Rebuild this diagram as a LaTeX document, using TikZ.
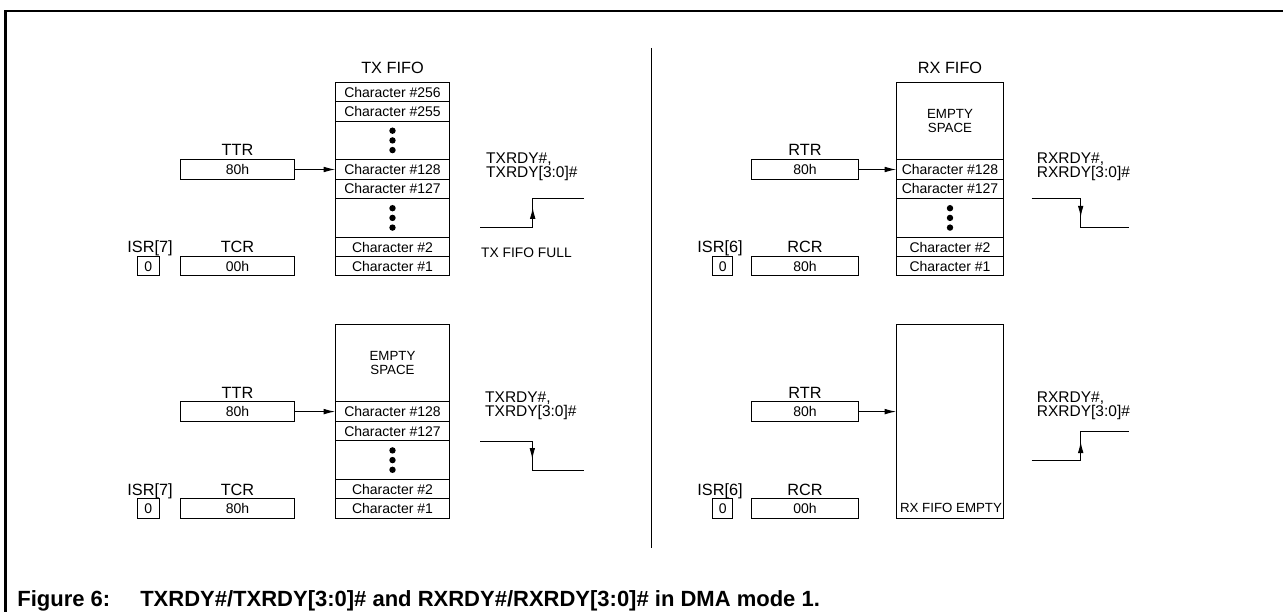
\documentclass[tikz,border=0pt]{standalone}
\usepackage{fontspec}
\setmainfont{Liberation Sans}
\usetikzlibrary{arrows.meta,calc}
\newcommand{\fsz}[1]{\fontsize{#1}{#1}\selectfont}
\begin{document}
\begin{tikzpicture}[x=1pt,y=-1pt,
  cell/.style={draw, line width=1pt, inner sep=0pt, minimum height=19.4pt, font=\fsz{14}},
  txw/.style={cell, minimum width=113.6pt},
  rxw/.style={cell, minimum width=106.6pt},
  reg/.style={cell, minimum width=113.6pt},
  rreg/.style={cell, minimum width=106.6pt},
  isr/.style={cell, minimum width=21.5pt},
  lab/.style={inner sep=0pt, anchor=base, font=\fsz{16.3}},
  sigtxt/.style={inner sep=0pt, anchor=base west, align=left, font=\fontsize{15.5}{14.4}\selectfont},
  note/.style={inner sep=0pt, anchor=base west, font=\fsz{13.8}},
  wave/.style={line width=1pt},
  arr/.style={line width=1pt, -{Latex[length=11.5pt,width=5.6pt]}},
  dotfill/.style={fill=black}
]
\useasboundingbox (0,0) rectangle (1283,612);
% frame
\draw[line width=2.3pt] (5.5,612) -- (5.5,11.2) -- (1283,11.2);
% divider
\draw[line width=1pt] (651.7,48) -- (651.7,548);

%================ TX FIFO full (top left)
\node[lab] (txtitle) at (392.5,74) {TX FIFO};
\node[txw] (a256) at (392.5,92.0) {Character \#256};
\node[txw] (a255) at (392.5,111.4) {Character \#255};
\node[txw, minimum height=38.74pt] (adots1) at (392.5,140.4) {};
\node[txw] (a128) at (392.5,169.5) {Character \#128};
\node[txw] (a127) at (392.5,188.8) {Character \#127};
\node[txw, minimum height=38.74pt] (adots2) at (392.5,217.9) {};
\node[txw] (a2) at (392.5,247.0) {Character \#2};
\node[txw] (a1) at (392.5,266.3) {Character \#1};
\foreach \d in {-9.7,0,9.7} {
  \fill[dotfill] ($(adots1.center)+(0,\d)$) circle (3.2pt);
  \fill[dotfill] ($(adots2.center)+(0,\d)$) circle (3.2pt);
}
\node[lab] (attrl) at (237.5,156) {TTR};
\node[reg] (attr) at (237.5,169.5) {80h};
\node[lab] (atcrl) at (237.5,252.7) {TCR};
\node[reg] (atcr) at (237.5,266.3) {00h};
\node[lab] (aisrl) at (150,252.7) {ISR[7]};
\node[isr] (aisr) at (148.3,266.3) {0};
\draw[arr] (attr.east) -- (a128.west);
\node[sigtxt] (asig) at (486,177.7) {TXRDY\#,\\TXRDY[3:0]\#};
\coordinate (aw1) at (480,227.7);
\coordinate (aw2) at (532.7,227.7);
\coordinate (aw3) at (532.7,198.3);
\coordinate (aw4) at (584,198.3);
\coordinate (awt) at (532.7,207.3);
\draw[wave] (aw1) -- (aw2) -- (aw3) -- (aw4);
\draw[arr] (aw2) -- (awt);
\node[note] (afull) at (481,257.3) {TX FIFO FULL};

%================ TX FIFO (bottom left)
\node[txw, minimum height=77.6pt, align=center, font=\fontsize{13.3}{13.6}\selectfont] (bempty) at (392.5,363.1) {EMPTY\\SPACE};
\node[txw] (b128) at (392.5,411.6) {Character \#128};
\node[txw] (b127) at (392.5,431.0) {Character \#127};
\node[txw, minimum height=38.8pt] (bdots) at (392.5,460.1) {};
\node[txw] (b2) at (392.5,489.2) {Character \#2};
\node[txw] (b1) at (392.5,508.6) {Character \#1};
\foreach \d in {-9.7,0,9.7} {
  \fill[dotfill] ($(bdots.center)+(0,\d)$) circle (3.2pt);
}
\node[lab] (bttrl) at (237.5,398.3) {TTR};
\node[reg] (bttr) at (237.5,411.6) {80h};
\node[lab] (btcrl) at (237.5,495) {TCR};
\node[reg] (btcr) at (237.5,508.6) {80h};
\node[lab] (bisrl) at (150,495) {ISR[7]};
\node[isr] (bisr) at (148.3,508.6) {0};
\draw[arr] (bttr.east) -- (b128.west);
\node[sigtxt] (bsig) at (485,416.7) {TXRDY\#,\\TXRDY[3:0]\#};
\coordinate (bw1) at (480,441);
\coordinate (bw2) at (532.3,441);
\coordinate (bw3) at (532.3,470);
\coordinate (bw4) at (584,470);
\coordinate (bwt) at (532.3,459.5);
\draw[wave] (bw1) -- (bw2) -- (bw3) -- (bw4);
\draw[arr] (bw2) -- (bwt);

%================ RX FIFO (top right)
\node[lab] (rxtitle) at (950,74) {RX FIFO};
\node[rxw, minimum height=77.48pt, align=center, font=\fontsize{13.3}{13.6}\selectfont] (cempty) at (950,121.0) {EMPTY\\SPACE};
\node[rxw] (c128) at (950,169.5) {Character \#128};
\node[rxw] (c127) at (950,188.8) {Character \#127};
\node[rxw, minimum height=38.74pt] (cdots) at (950,217.9) {};
\node[rxw] (c2) at (950,247.0) {Character \#2};
\node[rxw] (c1) at (950,266.3) {Character \#1};
\foreach \d in {-9.7,0,9.7} {
  \fill[dotfill] ($(cdots.center)+(0,\d)$) circle (3.2pt);
}
\node[lab] (crtrl) at (805,156) {RTR};
\node[rreg] (crtr) at (805,169.5) {80h};
\node[lab] (crcrl) at (805,252.7) {RCR};
\node[rreg] (crcr) at (805,266.3) {80h};
\node[lab] (cisrl) at (720,252.7) {ISR[6]};
\node[isr, minimum width=20pt] (cisr) at (722.7,266.3) {0};
\draw[arr] (crtr.east) -- (c128.west);
\node[sigtxt] (csig) at (1036.7,177.7) {RXRDY\#,\\RXRDY[3:0]\#};
\coordinate (cw1) at (1031.7,198.3);
\coordinate (cw2) at (1080.7,198.3);
\coordinate (cw3) at (1080.7,227.7);
\coordinate (cw4) at (1129.3,227.7);
\coordinate (cwt) at (1080.7,217.3);
\draw[wave] (cw1) -- (cw2) -- (cw3) -- (cw4);
\draw[arr] (cw2) -- (cwt);

%================ RX FIFO empty (bottom right)
\node[rxw, minimum height=194pt] (dbox) at (950,421.3) {};
\node[inner sep=0pt, anchor=base, font=\fsz{13.3}] (dempty) at (951,512.7) {RX FIFO EMPTY};
\node[lab] (drtrl) at (805,398.3) {RTR};
\node[rreg] (drtr) at (805,411.6) {80h};
\node[lab] (drcrl) at (805,495) {RCR};
\node[rreg] (drcr) at (805,508.6) {00h};
\node[lab] (disrl) at (720,495) {ISR[6]};
\node[isr, minimum width=20pt] (disr) at (722.7,508.6) {0};
\draw[arr] (drtr.east) -- (drtr.east -| dbox.west);
\node[sigtxt] (dsig) at (1036.7,416.7) {RXRDY\#,\\RXRDY[3:0]\#};
\coordinate (dw1) at (1031.7,460.7);
\coordinate (dw2) at (1080.7,460.7);
\coordinate (dw3) at (1080.7,431.7);
\coordinate (dw4) at (1129.3,431.7);
\coordinate (dwt) at (1080.7,441.5);
\draw[wave] (dw1) -- (dw2) -- (dw3) -- (dw4);
\draw[arr] (dw2) -- (dwt);

%================ caption
\node[inner sep=0pt, anchor=base west, font=\bfseries\fsz{22}] (caption) at (17.2,606.5)
  {Figure 6:\hspace{30pt}TXRDY\#/TXRDY[3:0]\# and RXRDY\#/RXRDY[3:0]\# in DMA mode 1.};
\end{tikzpicture}
\end{document}
